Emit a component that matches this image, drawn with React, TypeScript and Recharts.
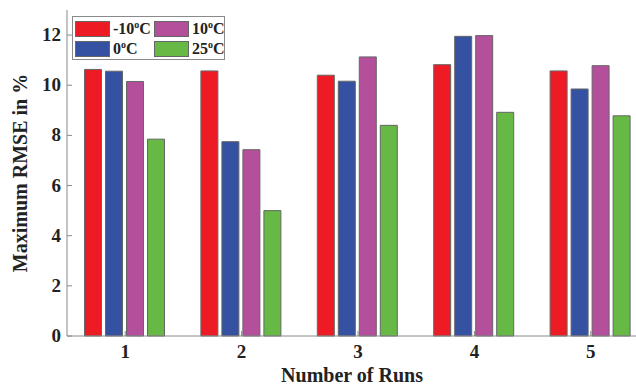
import { Bar, BarChart, Label, Legend, XAxis, YAxis } from "recharts";

const RUNS = ["1", "2", "3", "4", "5"];
const TEMP_M10 = [10.63, 10.57, 10.4, 10.82, 10.57];
const TEMP_0 = [10.56, 7.75, 10.16, 11.95, 9.85];
const TEMP_10 = [10.15, 7.43, 11.13, 11.98, 10.78];
const TEMP_25 = [7.85, 5.0, 8.4, 8.92, 8.78];
const Y_TICKS = [0, 2, 4, 6, 8, 10, 12];

// legend order is column-major, like the original figure
const SERIES = [
  { key: "m10", label: "-10", color: "#ed1c24", values: TEMP_M10 },
  { key: "t0", label: "0", color: "#3451a2", values: TEMP_0 },
  { key: "t10", label: "10", color: "#b44f9c", values: TEMP_10 },
  { key: "t25", label: "25", color: "#66b945", values: TEMP_25 },
];

const data = RUNS.map((run, i) => {
  const row: Record<string, string | number> = { run };
  SERIES.forEach((s) => (row[s.key] = s.values[i]));
  return row;
});

const FONT = "'Liberation Serif', 'Times New Roman', serif";
const AXIS = "#8a8a8a";
const TICK_LEN = 5;

function YTick(props: any) {
  const { x, y, payload } = props;
  const ax = x + 6;
  return (
    <g>
      <line x1={ax} x2={ax + TICK_LEN} y1={y} y2={y} stroke={AXIS} />
      <text x={x} y={y} dy={6} textAnchor="end" fontFamily={FONT} fontWeight="bold" fontSize={19} fill="#222">
        {payload.value}
      </text>
    </g>
  );
}

function XTick(props: any) {
  const { x, y, payload } = props;
  const ay = y - 6;
  return (
    <g>
      <line x1={x} x2={x} y1={ay} y2={ay - TICK_LEN} stroke={AXIS} />
      <text x={x} y={y} dy={16} textAnchor="middle" fontFamily={FONT} fontWeight="bold" fontSize={19} fill="#222">
        {payload.value}
      </text>
    </g>
  );
}

function TopTick(props: any) {
  const { x, y } = props;
  return <line x1={x} x2={x} y1={y} y2={y + TICK_LEN} stroke={AXIS} />;
}

function LegendBox() {
  return (
    <div
      style={{
        width: 153,
        height: 44,
        border: "1px solid #8a8a8a",
        background: "#fff",
        display: "grid",
        gridTemplateRows: "20px 20px",
        gridTemplateColumns: "79px 72px",
        gridAutoFlow: "column",
        padding: "2px 0 0 2px",
        boxSizing: "border-box",
        fontFamily: FONT,
        fontWeight: "bold",
        fontSize: 16,
        color: "#222",
      }}
    >
      {SERIES.map((s) => (
        <div key={s.key} style={{ display: "flex", alignItems: "center" }}>
          <span
            style={{
              display: "inline-block",
              width: 33,
              height: 14,
              background: s.color,
              border: "1px solid #666",
              marginRight: 3,
            }}
          />
          <span>
            {s.label}
            <sup style={{ fontSize: 10 }}>o</sup>C
          </span>
        </div>
      ))}
    </div>
  );
}

export default function App() {
  return (
    <div style={{ position: "absolute", left: 0, top: 0, width: 636, height: 386, overflow: "hidden", background: "#fff" }}>
      <BarChart
        width={660}
        height={386}
        data={data}
        margin={{ top: 10, right: 11, bottom: 0, left: 0 }}
        barCategoryGap={17.5}
        barGap={4}
      >
        <XAxis
          dataKey="run"
          height={50}
          stroke={AXIS}
          tickLine={false}
          tickSize={0}
          tickMargin={6}
          tick={<XTick />}
        >
          <Label
            value="Number of Runs"
            position="insideBottom"
            offset={4}
            dx={-6}
            style={{ fontFamily: FONT, fontWeight: "bold", fontSize: 20, fill: "#222" }}
          />
        </XAxis>
        <XAxis
          xAxisId="top"
          dataKey="run"
          orientation="top"
          height={0}
          stroke={AXIS}
          tickLine={false}
          tickSize={0}
          tickMargin={0}
          tick={<TopTick />}
        />
        <YAxis
          width={67}
          domain={[0, 13]}
          ticks={Y_TICKS}
          stroke={AXIS}
          tickLine={false}
          tickSize={0}
          tickMargin={6}
          tick={<YTick />}
        >
          <Label
            value="Maximum RMSE in %"
            angle={-90}
            position="insideLeft"
            offset={20}
            style={{ fontFamily: FONT, fontWeight: "bold", fontSize: 20, fill: "#222", textAnchor: "middle" }}
          />
        </YAxis>
        <Legend
          layout="vertical"
          align="center"
          verticalAlign="middle"
          wrapperStyle={{ top: 16, left: 72, width: 153, height: 44 }}
          content={() => <LegendBox />}
        />
        {SERIES.map((s) => (
          <Bar key={s.key} dataKey={s.key} fill={s.color} stroke="#666" strokeWidth={1} isAnimationActive={false} />
        ))}
      </BarChart>
    </div>
  );
}
